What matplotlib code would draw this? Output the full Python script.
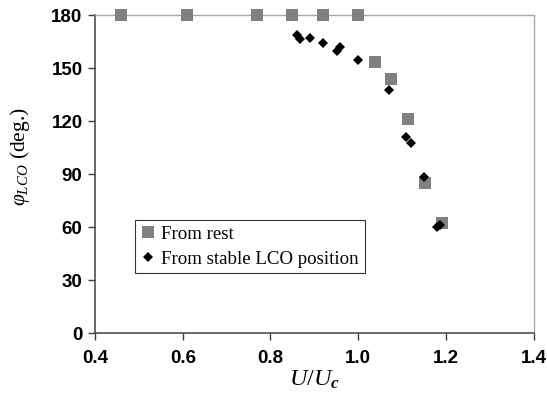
import matplotlib
matplotlib.use("Agg")
import matplotlib.pyplot as plt
from matplotlib.ticker import FormatStrFormatter

# data
rest_u = [0.46, 0.61, 0.77, 0.85, 0.92, 1.00, 1.038, 1.075, 1.114, 1.152, 1.19]
rest_phi = [180, 180, 180, 180, 180, 180, 153.4, 144.0, 121.4, 85.0, 62.2]

lco_u = [0.86, 0.867, 0.89, 0.92, 0.951, 0.958, 0.999, 1.07, 1.11, 1.12, 1.15, 1.179, 1.186]
lco_phi = [168.7, 166.5, 166.9, 164.4, 159.8, 162.0, 154.6, 137.8, 111.0, 107.8, 88.2, 60.3, 61.2]

x_ticks = [0.4, 0.6, 0.8, 1.0, 1.2, 1.4]
y_ticks = [0, 30, 60, 90, 120, 150, 180]

plt.rcParams["mathtext.fontset"] = "custom"
plt.rcParams["mathtext.rm"] = "Liberation Serif"
plt.rcParams["mathtext.it"] = "Liberation Serif:italic"
plt.rcParams["mathtext.bf"] = "Liberation Serif:italic:bold"

fig = plt.figure(figsize=(5.47, 3.99), dpi=100)
ax = fig.add_axes([0.1737, 0.1646, 0.8020, 0.7978])

ax.plot(rest_u, rest_phi, "s", color="#808080", ms=8.6, mew=0,
        label="From rest", clip_on=False, zorder=3)
ax.plot(lco_u, lco_phi, "D", color="black", ms=5.6, mew=0,
        label="From stable LCO position", clip_on=False, zorder=4)

ax.set_xlim(0.4, 1.4)
ax.set_ylim(0, 180)
ax.set_xticks(x_ticks)
ax.set_yticks(y_ticks)
ax.xaxis.set_major_formatter(FormatStrFormatter("%.1f"))

for lab in ax.get_xticklabels() + ax.get_yticklabels():
    lab.set_fontfamily("Liberation Sans")
    lab.set_fontweight("bold")
    lab.set_fontsize(13.5)

ax.tick_params(direction="out", length=5, width=1, color="#404040")
ax.tick_params(axis="x", pad=7)
ax.tick_params(axis="y", pad=4)
for side in ("left", "bottom"):
    ax.spines[side].set_color("#404040")
    ax.spines[side].set_linewidth(1.1)
for side in ("top", "right"):
    ax.spines[side].set_color("#a8a8a8")
    ax.spines[side].set_linewidth(1.0)

ax.set_xlabel(r"$U/U_{\mathbf{c}}$", fontsize=17.5, family="Liberation Serif", labelpad=1)
ax.set_ylabel(r"$\varphi_{LCO}$ (deg.)", fontsize=15.5, family="Liberation Serif")
ax.yaxis.set_label_coords(-0.143, 0.554)

leg = ax.legend(loc="upper left", bbox_to_anchor=(0.091, 0.356), borderaxespad=0,
                frameon=True, fancybox=False, handlelength=0.8, handletextpad=0.3,
                borderpad=0.3, labelspacing=0.4,
                prop={"family": "Liberation Serif", "size": 13.6})
leg.get_frame().set_edgecolor("black")
leg.get_frame().set_linewidth(0.8)

fig.savefig("out.png", dpi=100)
